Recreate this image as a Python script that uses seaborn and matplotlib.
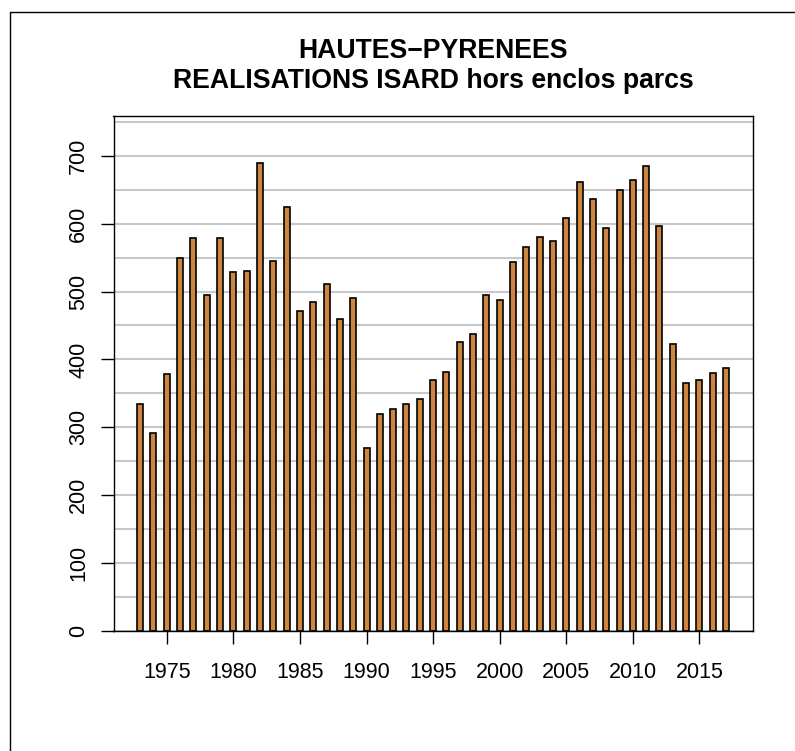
import numpy as np
import seaborn as sns
import matplotlib
matplotlib.use("Agg")
import matplotlib.pyplot as plt
from matplotlib.lines import Line2D

years = list(range(1973, 2018))
realisations = [335, 291, 379, 549, 579, 495, 579, 529, 530, 690,
                545, 624, 472, 484, 511, 460, 491, 269, 319, 327,
                334, 341, 369, 382, 425, 437, 495, 488, 544, 566,
                581, 575, 609, 661, 637, 594, 649, 664, 685, 597,
                422, 366, 370, 380, 388]
title_lines = ["HAUTES\u2212PYRENEES", "REALISATIONS ISARD hors enclos parcs"]
x_ticks = [1975, 1980, 1985, 1990, 1995, 2000, 2005, 2010, 2015]
y_ticks = [0, 100, 200, 300, 400, 500, 600, 700]

sns.set_style("white")
plt.rcParams["font.family"] = ["Liberation Sans", "DejaVu Sans"]
plt.rcParams["text.color"] = "black"
plt.rcParams["xtick.color"] = "black"
plt.rcParams["ytick.color"] = "black"
plt.rcParams["axes.labelcolor"] = "black"

W, H = 795, 751
fig = plt.figure(figsize=(W / 100, H / 100), dpi=100)
left, right, top, bottom = 113.5, 752.7, 115.7, 631
ax = fig.add_axes([left / W, (H - bottom) / H, (right - left) / W, (bottom - top) / H])

# grid every 50, drawn under the bars
ax.set_axisbelow(True)
ax.set_yticks(np.arange(0, 751, 50), minor=True)
ax.yaxis.grid(True, which="both", color="#c8c8c8", linewidth=1.5)
ax.xaxis.grid(False)

sns.barplot(x=years, y=realisations, native_scale=True, width=0.45,
            color="#CD853F", saturation=1, edgecolor="black", linewidth=1.2,
            errorbar=None, ax=ax)

ax.set_xlim(1971, 2019)
ax.set_ylim(0, 759)
ax.set_xticks(x_ticks)
ax.set_xticklabels([str(t) for t in x_ticks])
ax.set_yticks(y_ticks)
ax.set_yticklabels([str(t) for t in y_ticks], rotation=90, va="center")
ax.tick_params(which="major", direction="out", length=9.5, width=1.0,
               labelsize=15.5, color="black", labelcolor="black",
               left=True, bottom=True)
ax.tick_params(axis="x", pad=12.5)
ax.tick_params(axis="y", pad=8)
ax.tick_params(which="minor", length=0)
for s in ax.spines.values():
    s.set_color("black")
    s.set_linewidth(1.0)
ax.set_xlabel("")
ax.set_ylabel("")

cx = (left + right) / 2 / W
fig.text(cx, 1 - 58 / H, title_lines[0], ha="center", va="baseline",
         fontsize=19.2, fontweight="bold", color="black")
fig.text(cx, 1 - 88.5 / H, title_lines[1], ha="center", va="baseline",
         fontsize=19.2, fontweight="bold", color="black")

# outer frame (left and top edges visible)
fig.add_artist(Line2D([9.5 / W, 9.5 / W], [0, 1 - 11.7 / H], color="black", lw=1.0,
                      transform=fig.transFigure))
fig.add_artist(Line2D([9.5 / W, 1], [1 - 11.7 / H, 1 - 11.7 / H], color="black", lw=1.0,
                      transform=fig.transFigure))

fig.savefig("out.png", dpi=100)
